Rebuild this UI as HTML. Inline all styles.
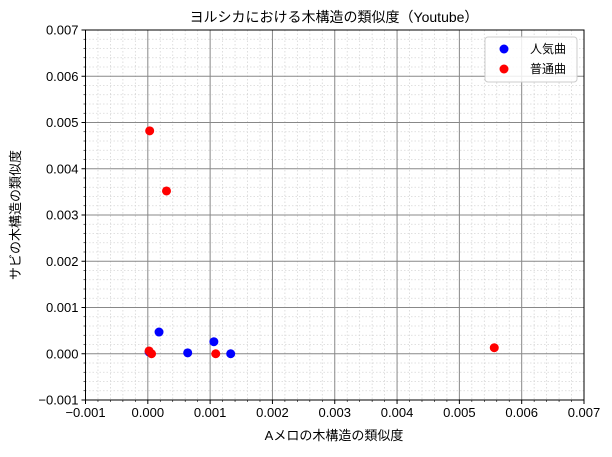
<!DOCTYPE html>
<html><head><meta charset="utf-8"><style>
body{margin:0;background:#fff}
svg text{font-family:"Liberation Sans","Noto Sans CJK JP",sans-serif;fill:#000}
</style></head><body>
<svg id="c" width="612" height="452" xmlns="http://www.w3.org/2000/svg"></svg>
<script>
const xTicks=[-0.001,0,0.001,0.002,0.003,0.004,0.005,0.006,0.007];
const yTicks=[-0.001,0,0.001,0.002,0.003,0.004,0.005,0.006,0.007];
const xTickLabels=["−0.001","0.000","0.001","0.002","0.003","0.004","0.005","0.006","0.007"];
const yTickLabels=["−0.001","0.000","0.001","0.002","0.003","0.004","0.005","0.006","0.007"];
const popX=[0.00018,0.00064,0.00106,0.00133,0.00002];
const popY=[0.00047,0.00002,0.00026,0.0,0.00004];
const normX=[0.00003,0.0003,0.00002,0.00006,0.00109,0.00556];
const normY=[0.00482,0.00352,0.00006,0.0,0.0,0.00013];
const L=85.5,R=584,T=30,B=400;
const sx=v=>L+(v+0.001)/0.008*(R-L);
const sy=v=>B-(v+0.001)/0.008*(B-T);
const svg=document.getElementById('c');
const NS='http://www.w3.org/2000/svg';
function mk(t,a,p){const e=document.createElementNS(NS,t);for(const k in a)e.setAttribute(k,a[k]);(p||svg).appendChild(e);return e;}
for(let i=0;i<=40;i++){if(i%5===0)continue;const v=-0.001+i*0.0002;
 let g=mk('line',{x1:sx(v),x2:sx(v),y1:T,y2:B,stroke:'#d6d6d6','stroke-dasharray':'1.5,2','stroke-width':0.8});
 g=mk('line',{x1:L,x2:R,y1:sy(v),y2:sy(v),stroke:'#d6d6d6','stroke-dasharray':'1.5,2','stroke-width':0.8});
 mk('line',{x1:sx(v),x2:sx(v),y1:B,y2:B+2,stroke:'#000','stroke-width':0.6});
 mk('line',{x1:L-2,x2:L,y1:sy(v),y2:sy(v),stroke:'#000','stroke-width':0.6});
}
xTicks.forEach((v,i)=>{const x=sx(v);
 const g=mk('line',{x1:x,x2:x,y1:T,y2:B,stroke:'#888','stroke-width':1});
 mk('line',{x1:x,x2:x,y1:B,y2:B+4,stroke:'#000'});
 const t=mk('text',{x:x,y:B+17,'text-anchor':'middle','font-size':13});t.textContent=xTickLabels[i];
 });
yTicks.forEach((v,i)=>{const y=sy(v);
 const g=mk('line',{x1:L,x2:R,y1:y,y2:y,stroke:'#888','stroke-width':1});
 mk('line',{x1:L-4,x2:L,y1:y,y2:y,stroke:'#000'});
 const t=mk('text',{x:L-7,y:y+4.5,'text-anchor':'end','font-size':13});t.textContent=yTickLabels[i];
 });
const fr=mk('rect',{x:L,y:T,width:R-L,height:B-T,fill:'none',stroke:'#000','stroke-width':1});

popX.forEach((v,i)=>{const c=mk('circle',{cx:sx(v),cy:sy(popY[i]),r:4.5,fill:'#0000ff'});
 });
normX.forEach((v,i)=>{const c=mk('circle',{cx:sx(v),cy:sy(normY[i]),r:4.5,fill:'#ff0000'});
 });
</script>
<svg style="position:absolute;left:0;top:0" width="612" height="452" xmlns="http://www.w3.org/2000/svg">
<text x="334" y="22" text-anchor="middle" font-size="14">ヨルシカにおける木構造の類似度（Youtube）</text>
<text x="334" y="440" text-anchor="middle" font-size="13">Aメロの木構造の類似度</text>
<text transform="translate(20,215) rotate(-90)" text-anchor="middle" font-size="13">サビの木構造の類似度</text>
<g>
<rect x="485" y="37" width="92" height="45" rx="3" fill="#fff" fill-opacity="0.85" stroke="#ccc"/>
<circle cx="504" cy="49" r="4.5" fill="#0000ff"/>
<text x="530" y="53" font-size="12">人気曲</text>
<circle cx="504" cy="69" r="4.5" fill="#ff0000"/>
<text x="530" y="73" font-size="12">普通曲</text>
</g>
</svg>
</body></html>
